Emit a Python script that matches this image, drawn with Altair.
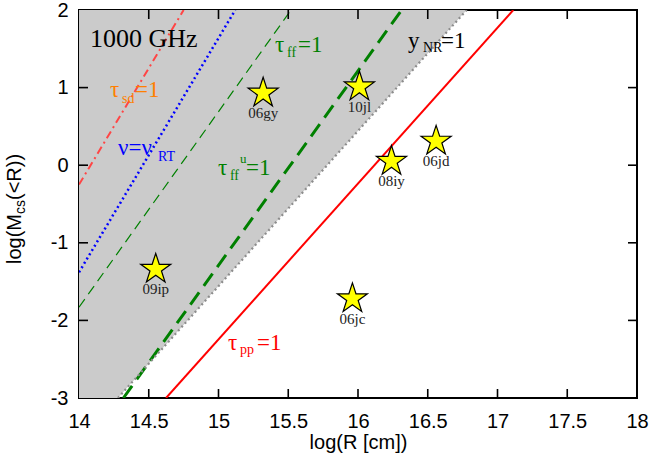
import altair as alt
import pandas as pd

# ---- supernovae (stars) ----
sn_names = ["06gy", "10jl", "08iy", "06jd", "09ip", "06jc"]
sn_logR = [15.32, 16.01, 16.24, 16.56, 14.55, 15.96]
sn_logM = [0.93, 1.01, 0.05, 0.31, -1.34, -1.72]

# ---- straight condition lines (end points) ----
line_keys = ["tau_sd", "nu_RT", "tau_ff", "tau_ff_u", "y_NR", "tau_pp"]
line_x0 = [14.0, 14.0, 14.0, 14.318, 14.279, 14.624]
line_y0 = [-0.25, -1.38, -1.83, -3.0, -3.0, -3.0]
line_x1 = [14.75, 15.12, 15.52, 16.313, 16.779, 17.113]
line_y1 = [2.0, 2.0, 2.0, 2.0, 2.0, 2.0]

# shaded (gray) region: left of the y_NR = 1 line
shade_x = [14.0, 14.279, 16.779]
shade_y = [-3.0, -3.0, 2.0]
shade_y2 = [2.0, 2.0, 2.0]

# axis ticks
x_ticks = [14, 14.5, 15, 15.5, 16, 16.5, 17, 17.5, 18]
y_ticks = [-3, -2, -1, 0, 1, 2]
x_inner = [14.5, 15, 15.5, 16, 16.5, 17, 17.5]
y_inner = [-2, -1, 0, 1]

# in-plot annotation pieces (text, x, y, kind, color)
ann_text = ["1000 GHz",
            "τ", "sd", "=1",
            "ν=ν", "RT",
            "τ", "ff", "=1",
            "τ", "ff", "u", "=1",
            "y", "NR", "=1",
            "τ", "pp", "=1"]
ann_x = [14.079,
         14.222, 14.308, 14.401,
         14.280, 14.566,
         15.405, 15.491, 15.570,
         14.996, 15.082, 15.154, 15.197,
         16.358, 16.466, 16.595,
         15.068, 15.154, 15.276]
ann_y = [1.523,
         0.879, 0.802, 0.879,
         0.131, 0.054,
         1.459, 1.394, 1.459,
         -0.126, -0.191, 0.028, -0.126,
         1.510, 1.459, 1.510,
         -2.381, -2.433, -2.381]
ann_kind = ["big",
            "main", "sub", "main",
            "main", "sub",
            "main", "sub", "main",
            "main", "sub", "sup", "main",
            "main", "sub", "main",
            "main", "sub", "main"]
ann_color = ["#000000",
             "#ff7f00", "#ff7f00", "#ff7f00",
             "#0000ff", "#0000ff",
             "#008000", "#008000", "#008000",
             "#008000", "#008000", "#008000", "#008000",
             "#000000", "#000000", "#000000",
             "#ff0000", "#ff0000", "#ff0000"]

kind_size = {"big": 26, "main": 23, "sub": 14, "sup": 13}

xs = alt.Scale(domain=[14, 18], nice=False, zero=False)
ys = alt.Scale(domain=[-3, 2], nice=False, zero=False)
xaxis = alt.Axis(values=x_ticks, title="log(R [cm])", labelExpr="toString(datum.value)",
                 titleY=50, titleBaseline="alphabetic", labelFlush=False)
yaxis = alt.Axis(values=y_ticks, title=None, labelExpr="toString(datum.value)",
                 labelFlush=False)


def X(f):
    return alt.X(f, scale=xs, axis=xaxis, title="log(R [cm])")


def Y(f):
    return alt.Y(f, scale=ys, axis=yaxis, title=None)


W, H = 558, 388

# star path in [-1, 1]
star_path = ("M0,-1 L0.2245,-0.309 L0.951,-0.309 L0.363,0.118 L0.588,0.809 "
             "L0,0.382 L-0.588,0.809 L-0.363,0.118 L-0.951,-0.309 L-0.2245,-0.309 Z")

shade_df = pd.DataFrame({"x": shade_x, "y": shade_y, "y2": shade_y2})
shade = alt.Chart(shade_df).mark_area(color="#cbcbcb", opacity=1, line=False).encode(
    x=X("x:Q"), y=Y("y:Q"), y2="y2:Q",
)

line_style = {
    "tau_sd": dict(color="#ff4545", strokeWidth=2, strokeDash=[8, 4, 2, 4]),
    "nu_RT": dict(color="#0000ff", strokeWidth=2.5, strokeDash=[2, 3]),
    "tau_ff": dict(color="#008000", strokeWidth=1.2, strokeDash=[10, 6]),
    "tau_ff_u": dict(color="#008000", strokeWidth=3, strokeDash=[15, 8]),
    "y_NR": dict(color="#8c8c8c", strokeWidth=2.2, strokeDash=[2, 3]),
    "tau_pp": dict(color="#ff0000", strokeWidth=2),
}

layers = [shade]
for k, x0, y0, x1, y1 in zip(line_keys, line_x0, line_y0, line_x1, line_y1):
    df = pd.DataFrame({"x": [x0, x1], "y": [y0, y1]})
    layers.append(
        alt.Chart(df).mark_line(clip=True, **line_style[k]).encode(x=X("x:Q"), y=Y("y:Q"))
    )

# inward ticks on all four sides
xt = pd.DataFrame({"v": x_inner})
yt = pd.DataFrame({"v": y_inner})
tick_kw = dict(color="black", strokeWidth=1.6)
layers += [
    alt.Chart(xt).mark_rule(**tick_kw).encode(
        x=X("v:Q"), y=alt.value(H), y2=alt.value(H - 9)),
    alt.Chart(xt).mark_rule(**tick_kw).encode(
        x=X("v:Q"), y=alt.value(0), y2=alt.value(9)),
    alt.Chart(yt).mark_rule(**tick_kw).encode(
        y=Y("v:Q"), x=alt.value(0), x2=alt.value(9)),
    alt.Chart(yt).mark_rule(**tick_kw).encode(
        y=Y("v:Q"), x=alt.value(W), x2=alt.value(W - 9)),
]

sn_df = pd.DataFrame({"name": sn_names, "x": sn_logR, "y": sn_logM})
layers.append(
    alt.Chart(sn_df).mark_point(shape=star_path, size=1000, filled=True,
                                fill="#ffff00", stroke="black", strokeWidth=1.2,
                                opacity=1).encode(x=X("x:Q"), y=Y("y:Q"))
)
layers.append(
    alt.Chart(sn_df).mark_text(font="Liberation Serif", fontSize=15, color="#222222",
                               align="center", baseline="alphabetic", dy=25).encode(
        x=X("x:Q"), y=Y("y:Q"), text="name:N",
    )
)

ann_df = pd.DataFrame({"t": ann_text, "x": ann_x, "y": ann_y,
                       "s": [kind_size[k] for k in ann_kind], "c": ann_color})
layers.append(
    alt.Chart(ann_df).mark_text(font="Liberation Serif", align="left",
                                baseline="alphabetic").encode(
        x=X("x:Q"), y=Y("y:Q"),
        text="t:N",
        size=alt.Size("s:Q", scale=None, legend=None),
        color=alt.Color("c:N", scale=None, legend=None),
    )
)

# y axis title with subscript, built from rotated text pieces (one row each)
one = pd.DataFrame({"k": [0]})
ytitle_kw = dict(font="Liberation Sans", angle=270, align="left", baseline="alphabetic",
                 color="black")
layers += [
    alt.Chart(one).mark_text(text="log(M", fontSize=20, **ytitle_kw).encode(
        x=alt.value(-58), y=alt.value(254)),
    alt.Chart(one).mark_text(text="cs", fontSize=14, **ytitle_kw).encode(
        x=alt.value(-54), y=alt.value(204)),
    alt.Chart(one).mark_text(text="(<R))", fontSize=20, **ytitle_kw).encode(
        x=alt.value(-58), y=alt.value(190)),
]

chart = alt.layer(*layers).properties(
    width=W, height=H,
    padding={"left": 79, "top": 10, "right": 28, "bottom": 62},
    autosize=alt.AutoSizeParams(type="none"),
).configure_view(
    stroke="black", strokeWidth=2
).configure_axis(
    domain=False, ticks=False, grid=False,
    labelFont="Liberation Sans", labelFontSize=20, labelColor="black",
    titleFont="Liberation Sans", titleFontSize=20, titleColor="black", titleFontWeight="normal",
).configure_axisX(
    labelPadding=13,
).configure_axisY(
    labelPadding=11,
)

chart.save("out.html", embed_options={"renderer": "svg", "actions": False})
